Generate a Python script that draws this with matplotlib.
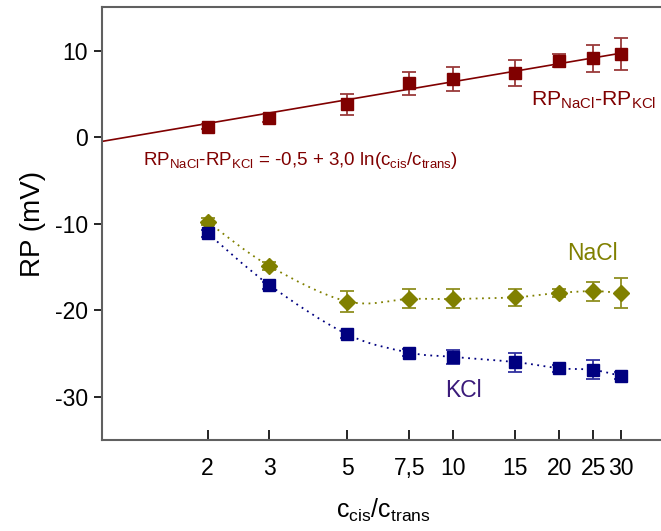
import matplotlib.pyplot as plt
import numpy as np
from matplotlib.path import Path
from matplotlib.patches import PathPatch

# ratios c_cis / c_trans
ratio = [2, 3, 5, 7.5, 10, 15, 20, 25, 30]
tick_labels = ["2", "3", "5", "7,5", "10", "15", "20", "25", "30"]

# RP_NaCl - RP_KCl
diff_rp = [1.2, 2.2, 3.8, 6.2, 6.7, 7.4, 8.8, 9.1, 9.6]
diff_err = [0.3, 0.5, 1.2, 1.3, 1.35, 1.5, 0.75, 1.6, 1.8]

# NaCl
nacl_rp = [-9.8, -14.9, -19.0, -18.7, -18.7, -18.5, -18.0, -17.8, -18.0]
nacl_err = [0.4, 0.5, 1.2, 1.1, 1.1, 1.0, 0.5, 1.1, 1.7]

# KCl
kcl_rp = [-11.1, -17.1, -22.8, -24.9, -25.4, -26.0, -26.7, -26.9, -27.6]
kcl_err = [0.4, 0.4, 0.4, 0.4, 0.8, 1.1, 0.4, 1.1, 0.4]

# fit: RP = -0.5 + 3.0 ln(x)
fit_a, fit_b = -0.5, 3.0

RED = "#800000"
OLIVE = "#808000"
NAVY = "#000080"
SPINE = "#606060"


def smooth_path(xs, ys):
    # Catmull-Rom curve through the points, built in log-x space
    lx = np.log10(xs)
    ys = np.asarray(ys, dtype=float)
    px = np.concatenate([[lx[0]], lx, [lx[-1]]])
    py = np.concatenate([[ys[0]], ys, [ys[-1]]])
    verts = [(xs[0], ys[0])]
    codes = [Path.MOVETO]
    for i in range(1, len(px) - 2):
        c1x = px[i] + (px[i + 1] - px[i - 1]) / 6
        c1y = py[i] + (py[i + 1] - py[i - 1]) / 6
        c2x = px[i + 1] - (px[i + 2] - px[i]) / 6
        c2y = py[i + 1] - (py[i + 2] - py[i]) / 6
        verts += [(10 ** c1x, c1y), (10 ** c2x, c2y), (10 ** px[i + 1], py[i + 1])]
        codes += [Path.CURVE4] * 3
    return Path(verts, codes)


plt.rcParams['font.family'] = ['Liberation Sans', 'DejaVu Sans']
plt.rcParams['axes.unicode_minus'] = False

fig = plt.figure(figsize=(6.61, 5.31), dpi=100)
ax = fig.add_axes([0.1539, 0.1714, 1.006 - 0.1539, 0.9862 - 0.1714])
ax.set_xscale('log')
ax.set_xlim(1, 40)
ax.set_ylim(-35, 15)

# fitted line
xf = np.linspace(1, 30, 200)
ax.plot(xf, fit_a + fit_b * np.log(xf), color=RED, lw=1.2, zorder=2)

# smooth dotted connectors
for vals, col in [(nacl_rp, OLIVE), (kcl_rp, NAVY)]:
    ax.add_patch(PathPatch(smooth_path(ratio, vals), fill=False, edgecolor=col,
                           lw=1.3, ls=(0, (1, 2.5)), zorder=2))

ax.errorbar(ratio, diff_rp, yerr=diff_err, fmt='s', color=RED, ms=8.5,
            ecolor="#9a3a3a", elinewidth=1.3, capsize=5, capthick=1.3, zorder=3)
ax.errorbar(ratio, nacl_rp, yerr=nacl_err, fmt='D', color=OLIVE, ms=8,
            ecolor="#8f8f20", elinewidth=1.3, capsize=5, capthick=1.3, zorder=3)
ax.errorbar(ratio, kcl_rp, yerr=kcl_err, fmt='s', color=NAVY, ms=8.5,
            ecolor="#3030a0", elinewidth=1.3, capsize=5, capthick=1.3, zorder=3)

# annotations
ax.text(1.31, -2.7, r"RP$_{\mathregular{NaCl}}$-RP$_{\mathregular{KCl}}$ = -0,5 + 3,0 ln(c$_{\mathregular{cis}}$/c$_{\mathregular{trans}}$)",
        color=RED, fontsize=13.5, ha='left', va='center')
ax.text(37.8, 4.3, r"RP$_{\mathregular{NaCl}}$-RP$_{\mathregular{KCl}}$",
        color=RED, fontsize=15.3, ha='right', va='center')
ax.text(24.9, -13.4, "NaCl", color=OLIVE, fontsize=16.5, ha='center', va='center')
ax.text(10.7, -29.3, "KCl", color="#3a1a7a", fontsize=16.5, ha='center', va='center')

ax.set_xticks(ratio)
ax.set_xticklabels(tick_labels)
ax.xaxis.set_minor_locator(plt.NullLocator())
ax.set_yticks([-30, -20, -10, 0, 10])
ax.tick_params(axis='x', direction='in', length=7, width=1.2, color='black',
               labelsize=16.5, pad=12)
ax.tick_params(axis='y', direction='out', length=6, width=1.2, color='black',
               labelsize=16.5, pad=4)

for side in ['left', 'bottom', 'top']:
    ax.spines[side].set_color(SPINE)
    ax.spines[side].set_linewidth(1.5)
ax.spines['right'].set_visible(False)

ax.set_ylabel("RP (mV)", fontsize=20, labelpad=6)
ax.set_xlabel(r"c$_{\mathregular{cis}}$/c$_{\mathregular{trans}}$", fontsize=18, labelpad=12)

fig.savefig("out.png", dpi=100)
